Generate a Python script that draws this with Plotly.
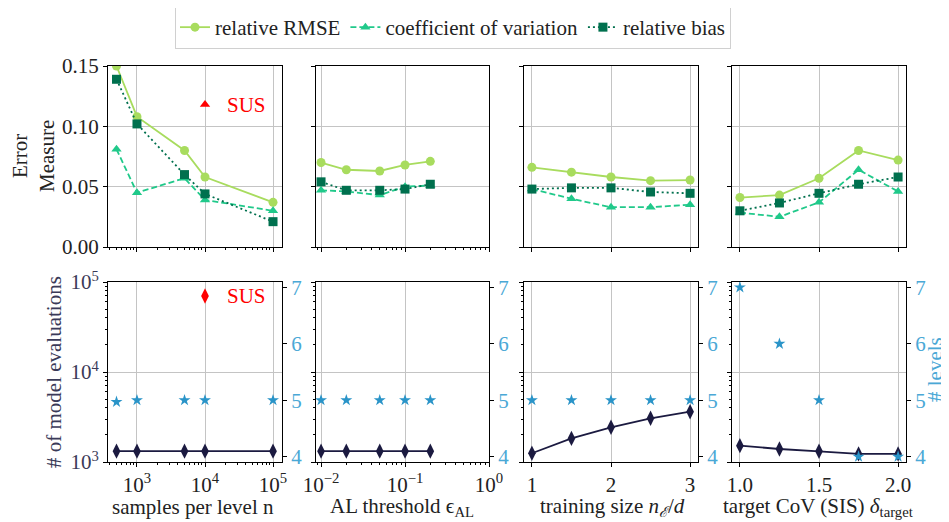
import plotly.graph_objects as go
import numpy as np

# ---------------- data ----------------
n_samples = [500, 1000, 5000, 10000, 100000]
rmse_n = [0.150, 0.108, 0.080, 0.058, 0.037]
cov_n = [0.081, 0.045, 0.057, 0.039, 0.030]
bias_n = [0.139, 0.102, 0.060, 0.044, 0.021]
evals_n = [1320, 1320, 1320, 1320, 1320]
levels_n = [4.97, 5, 5, 5, 5]

eps_al = [0.01, 0.02, 0.05, 0.1, 0.2]
rmse_eps = [0.070, 0.064, 0.063, 0.068, 0.071]
cov_eps = [0.047, 0.046, 0.043, 0.050, 0.051]
bias_eps = [0.054, 0.047, 0.047, 0.048, 0.052]
evals_eps = [1320, 1320, 1320, 1320, 1320]
levels_eps = [5, 5, 5, 5, 5]

train_size = [1, 1.5, 2, 2.5, 3]
rmse_tr = [0.066, 0.062, 0.058, 0.055, 0.0555]
cov_tr = [0.048, 0.040, 0.033, 0.033, 0.035]
bias_tr = [0.048, 0.049, 0.049, 0.0456, 0.0445]
evals_tr = [1250, 1830, 2430, 3060, 3620]
levels_tr = [5, 5, 5, 5, 5]

target_cov = [1.0, 1.25, 1.5, 1.75, 2.0]
rmse_tc = [0.041, 0.043, 0.057, 0.080, 0.072]
cov_tc = [0.0285, 0.025, 0.037, 0.064, 0.046]
bias_tc = [0.030, 0.0365, 0.0445, 0.052, 0.058]
evals_tc = [1520, 1395, 1315, 1230, 1230]
levels_tc = [7, 6, 5, 4, 4]

sus_n = 10000
sus_error = 0.118
sus_evals = 70000

series_names = ["relative RMSE", "coefficient of variation", "relative bias"]
x_titles = ["samples per level n", "AL threshold ϵ<sub>AL</sub>",
            "training size <i>n</i><sub><i>ℰ</i></sub>/<i>d</i>",
            "target CoV (SIS) <i>δ</i><sub>target</sub>"]

# ---------------- style ----------------
OFF = 8                      # page body offset
FW, FH = 949 - OFF, 522 - OFF
def fx(px):
    return (px - OFF) / FW
def fy(py):
    return 1 - (py - OFF) / FH

FONT = "Liberation Serif"
C_RMSE = "#a8dc5e"
C_COV = "#20c98a"
C_BIAS = "#00704e"
C_EVAL = "#1b1a40"
C_LEV = "#2a94c8"
C_LEVTXT = "#4aa8d6"
C_EVTXT = "#3a3a58"
GRID = "#c4c4c4"
FS = 21

xdom_px = [(108, 282), (316, 489), (524, 698), (732, 906)]
xdoms = [[fx(a), fx(b)] for a, b in xdom_px]
ytop = [fy(247), fy(66)]
ybot = [fy(462), fy(282)]

fig = go.Figure()

panels = [
    (n_samples, rmse_n, cov_n, bias_n, evals_n, levels_n),
    (eps_al, rmse_eps, cov_eps, bias_eps, evals_eps, levels_eps),
    (train_size, rmse_tr, cov_tr, bias_tr, evals_tr, levels_tr),
    (target_cov, rmse_tc, cov_tc, bias_tc, evals_tc, levels_tc),
]

for i, (xv, r, c, b, ev, lv) in enumerate(panels):
    xt = "x" if i == 0 else f"x{i+1}"
    yt = "y" if i == 0 else f"y{i+1}"
    xb = f"x{i+5}"
    yb = f"y{i+5}"
    yr = f"y{i+9}"
    show = i == 0
    fig.add_trace(go.Scatter(x=xv, y=r, mode="lines+markers", name=series_names[0],
                             line=dict(color=C_RMSE, width=1.8),
                             marker=dict(symbol="circle", size=9, color=C_RMSE),
                             xaxis=xt, yaxis=yt, showlegend=show, legendgroup="a"))
    fig.add_trace(go.Scatter(x=xv, y=c, mode="lines+markers", name=series_names[1],
                             line=dict(color=C_COV, width=1.8, dash="6px,3px"),
                             marker=dict(symbol="triangle-up", size=9, color=C_COV),
                             xaxis=xt, yaxis=yt, showlegend=show, legendgroup="b"))
    fig.add_trace(go.Scatter(x=xv, y=b, mode="lines+markers", name=series_names[2],
                             line=dict(color=C_BIAS, width=1.8, dash="2px,3px"),
                             marker=dict(symbol="square", size=9, color=C_BIAS),
                             xaxis=xt, yaxis=yt, showlegend=show, legendgroup="c"))
    fig.add_trace(go.Scatter(x=xv, y=ev, mode="lines+markers",
                             line=dict(color=C_EVAL, width=1.8),
                             marker=dict(symbol="diamond-tall", size=11, color=C_EVAL),
                             xaxis=xb, yaxis=yb, showlegend=False))
    fig.add_trace(go.Scatter(x=xv, y=lv, mode="markers",
                             marker=dict(symbol="star", size=9, color=C_LEV),
                             xaxis=xb, yaxis=yr, showlegend=False))

fig.add_trace(go.Scatter(x=[sus_n], y=[sus_error], mode="markers",
                         marker=dict(symbol="triangle-up", size=9, color="red"),
                         xaxis="x", yaxis="y", showlegend=False))
fig.add_trace(go.Scatter(x=[sus_n], y=[sus_evals], mode="markers",
                         marker=dict(symbol="diamond-tall", size=11, color="red"),
                         xaxis="x5", yaxis="y5", showlegend=False))

tickfont = dict(family=FONT, size=FS, color="#222222")
axis_common = dict(showline=True, linecolor="black", linewidth=1, mirror=True,
                   ticks="outside", ticklen=4, tickcolor="black",
                   showgrid=True, gridcolor=GRID, gridwidth=1, zeroline=False,
                   tickfont=tickfont, automargin=False)

def decade_minor(lo, hi):
    vals = []
    for e in range(lo, hi + 1):
        for m in range(2, 10):
            vals.append(m * 10.0 ** e)
    return vals

xcfg = [
    dict(type="log", range=[2.574, 5.132], tickvals=[1e3, 1e4, 1e5],
         ticktext=["10<sup>3</sup>", "10<sup>4</sup>", "10<sup>5</sup>"],
         minor=dict(ticks="outside", ticklen=2, tickcolor="black",
                    tickvals=decade_minor(2, 5), showgrid=False)),
    dict(type="log", range=[-2.06, 0.0], tickvals=[1e-2, 1e-1, 1],
         ticktext=["10<sup>−2</sup>", "10<sup>−1</sup>", "10<sup>0</sup>"],
         minor=dict(ticks="outside", ticklen=2, tickcolor="black",
                    tickvals=decade_minor(-3, -1), showgrid=False)),
    dict(type="linear", range=[0.9, 3.1], tickvals=[1, 2, 3], ticktext=["1", "2", "3"]),
    dict(type="linear", range=[0.95, 2.05], tickvals=[1.0, 1.5, 2.0],
         ticktext=["1.0", "1.5", "2.0"]),
]

layout = dict(width=FW, height=FH, margin=dict(l=0, r=0, t=0, b=0, autoexpand=False),
              paper_bgcolor="white", plot_bgcolor="white",
              font=dict(family=FONT, size=FS, color="#222222"))

for i in range(4):
    top_x = "xaxis" if i == 0 else f"xaxis{i+1}"
    top_y = "yaxis" if i == 0 else f"yaxis{i+1}"
    anchor_top_y = "y" if i == 0 else f"y{i+1}"
    anchor_top_x = "x" if i == 0 else f"x{i+1}"
    layout[top_x] = dict(axis_common, **xcfg[i], domain=xdoms[i], anchor=anchor_top_y,
                         showticklabels=False)
    layout[top_y] = dict(axis_common, domain=ytop, anchor=anchor_top_x, range=[0, 0.15],
                         tickvals=[0, 0.05, 0.10, 0.15],
                         ticktext=["0.00", "0.05", "0.10", "0.15"],
                         showticklabels=(i == 0))
    layout[f"xaxis{i+5}"] = dict(axis_common, **xcfg[i], domain=xdoms[i], anchor=f"y{i+5}")
    layout[f"yaxis{i+5}"] = dict(axis_common, type="log", domain=ybot, anchor=f"x{i+5}",
                                 range=[3, 5], tickvals=[1e3, 1e4, 1e5],
                                 ticktext=["10<sup>3</sup>", "10<sup>4</sup>", "10<sup>5</sup>"],
                                 tickfont=dict(family=FONT, size=FS, color=C_EVTXT),
                                 showticklabels=(i == 0),
                                 minor=dict(ticks="outside", ticklen=2, tickcolor="black",
                                            tickvals=decade_minor(3, 4), showgrid=False))
    layout[f"yaxis{i+9}"] = dict(overlaying=f"y{i+5}", side="right", anchor=f"x{i+5}",
                                 range=[3.905, 7.095], tickvals=[4, 5, 6, 7],
                                 ticktext=["4", "5", "6", "7"],
                                 ticks="outside", ticklen=4, tickcolor="black",
                                 showgrid=False, zeroline=False, showline=False,
                                 automargin=False,
                                 tickfont=dict(family=FONT, size=FS, color=C_LEVTXT))

layout["legend"] = dict(orientation="h", x=fx(453), xanchor="center", y=fy(6),
                        yanchor="top", bgcolor="white", bordercolor="#d0d0d0",
                        borderwidth=1, font=dict(family=FONT, size=FS, color="#222222"),
                        itemwidth=30, tracegroupgap=0)

def A(text, px, py, color="#222222", angle=0, **kw):
    d = dict(text=text, x=fx(px), y=fy(py), xref="paper", yref="paper",
             showarrow=False, textangle=angle, xanchor="center", yanchor="middle",
             font=dict(family=FONT, size=FS, color=color))
    d.update(kw)
    return d

ann = []
ann.append(A("Error<br>Measure", 33, 156, angle=-90))
ann.append(A("# of model evaluations", 54, 372, color=C_EVTXT, angle=-90))
ann.append(A("# levels", 935, 370, color=C_LEVTXT, angle=-90))
centers = [193, 402, 612, 818]
for i in range(4):
    ann.append(A(x_titles[i], centers[i], 507))
ann.append(dict(text="SUS", x=np.log10(sus_n) + 0.3, y=sus_error, xref="x", yref="y",
                xanchor="left", yanchor="middle", showarrow=False,
                font=dict(family=FONT, size=FS, color="red")))
ann.append(dict(text="SUS", x=np.log10(sus_n) + 0.3, y=np.log10(sus_evals), xref="x5",
                yref="y5", xanchor="left", yanchor="middle", showarrow=False,
                font=dict(family=FONT, size=FS, color="red")))
layout["annotations"] = ann

fig.update_layout(**layout)
fig.write_html("out.html")
